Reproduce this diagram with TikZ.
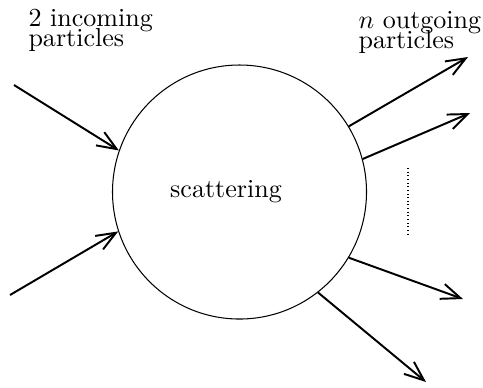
\documentclass[tikz,border=0pt]{standalone}
\usetikzlibrary{arrows.meta}

\begin{document}
\begin{tikzpicture}[x=0.0135cm, y=-0.0135cm,
        >={Straight Barb[length=7.5pt,width=6pt]},
        particle/.style={->, line width=0.75pt},
        caption/.style={anchor=north west, inner sep=0pt, align=left}]
        \useasboundingbox (0,0) rectangle (483,387);
        \node[circle, draw, inner sep=0pt, minimum size=3.43cm] (scat) at (239.5,192) {};
        \node (scattext) at (226,192) {scattering};

        \node[caption] (intext) at (28,8.6) {2 incoming\\[-4.3pt]particles};
        \node[caption] (outtext) at (358,10.6) {$n$ outgoing\\[-4.3pt]particles};

        % incoming
        \coordinate (in1) at (14,85);
        \coordinate (in2) at (10,295);
        \draw [particle] (in1) -- (scat.161.9);
        \draw [particle] (in2) -- (scat.198.5);

        % outgoing
        \coordinate (out1) at (468,57);
        \coordinate (out2) at (470,113);
        \coordinate (out3) at (463,299);
        \coordinate (out4) at (426,382);
        \draw [particle] (scat.31.7) -- (out1);
        \draw [particle] (scat.15.8) -- (out2);
        \draw [particle] (scat.-31.3) -- (out3);
        \draw [particle] (scat.-52) -- (out4);

        \coordinate (dtop) at (408,168);
        \coordinate (dbot) at (408,237);
        \draw [densely dotted] (dtop) -- (dbot);
\end{tikzpicture}
\end{document}
